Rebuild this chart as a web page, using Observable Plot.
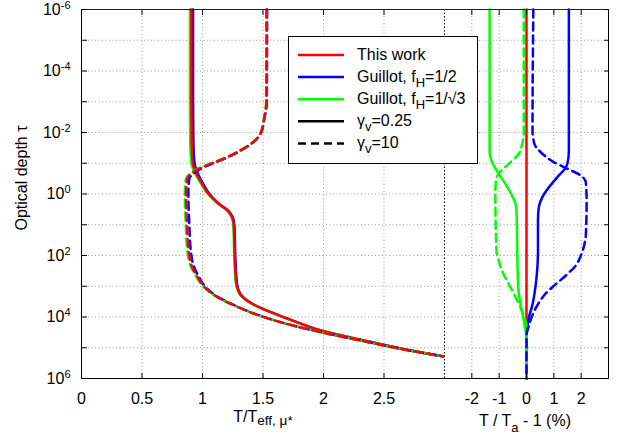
<!DOCTYPE html>
<html>
<head>
<meta charset="utf-8">
<script src="https://cdn.jsdelivr.net/npm/d3@7"></script>
<script src="https://cdn.jsdelivr.net/npm/@observablehq/plot@0.6"></script>
<style>
  html, body { margin: 0; padding: 0; background: #fff; }
  #chart { position: relative; width: 625px; height: 443px; font-family: "Liberation Sans", Arial, Helvetica, sans-serif; }
  #chart > svg { position: absolute; top: 0; overflow: visible; }
</style>
</head>
<body>
<div id="chart"></div>
<script>
// ---- Temperature profiles, T / T_eff,mu* versus log10(optical depth) ----
// gamma_v = 0.25 (solid)
const solidLogTau       = [-6, -3, -2, -1.5, -1, -0.66, -0.33, 0, 0.32, 0.54, 0.75, 1, 1.5, 2, 2.5, 2.9, 3.25, 3.57, 3.9, 4.11, 4.44, 4.76, 5.09, 5.28];
const solidThisWork     = [0.908, 0.908, 0.910, 0.912, 0.920, 0.950, 0.997, 1.051, 1.134, 1.208, 1.244, 1.258, 1.263, 1.266, 1.272, 1.280, 1.310, 1.410, 1.600, 1.740, 1.980, 2.330, 2.720, 2.990];
const solidGuillotHalf  = [0.922, 0.922, 0.924, 0.926, 0.934, 0.962, 1.006, 1.058, 1.139, 1.213, 1.249, 1.263, 1.268, 1.271, 1.277, 1.284, 1.313, 1.413, 1.602, 1.741, 1.980, 2.330, 2.720, 2.990];
const solidGuillotSqrt3 = [0.896, 0.896, 0.898, 0.900, 0.909, 0.940, 0.989, 1.045, 1.129, 1.204, 1.240, 1.254, 1.259, 1.262, 1.268, 1.276, 1.306, 1.407, 1.598, 1.738, 1.979, 2.330, 2.720, 2.990];
// gamma_v = 10 (dashed)
const dashedLogTau       = [-6, -3, -2.5, -1.96, -1.63, -1.36, -1.15, -0.98, -0.82, -0.66, -0.5, 0, 1, 1.84, 2.38, 2.71, 3.03, 3.36, 3.68, 4.01, 4.3, 4.46, 4.76, 5.09, 5.28];
const dashedThisWork     = [1.530, 1.528, 1.511, 1.478, 1.400, 1.285, 1.175, 1.065, 0.969, 0.906, 0.873, 0.864, 0.872, 0.885, 0.915, 0.960, 1.017, 1.128, 1.295, 1.512, 1.770, 1.940, 2.300, 2.710, 2.990];
const dashedGuillotHalf  = [1.534, 1.532, 1.514, 1.481, 1.404, 1.292, 1.185, 1.077, 0.984, 0.923, 0.891, 0.883, 0.891, 0.903, 0.931, 0.972, 1.026, 1.134, 1.299, 1.514, 1.771, 1.940, 2.300, 2.710, 2.990];
const dashedGuillotSqrt3 = [1.528, 1.526, 1.509, 1.477, 1.398, 1.282, 1.170, 1.058, 0.961, 0.897, 0.863, 0.854, 0.862, 0.875, 0.906, 0.953, 1.011, 1.123, 1.292, 1.511, 1.770, 1.940, 2.300, 2.710, 2.990];

// ---- Relative difference to this work, T / T_a - 1 (%) ----
const refLogTau = [-6, 6];
const refPct    = [0, 0];
const halfSolidLogTau = [-6, -1.4, -1.0, -0.87, -0.55, -0.22, 0.10, 0.43, 0.86, 1.84, 2.6, 3.0, 3.63, 4.0, 4.4, 4.6, 6];
const halfSolidPct    = [1.55, 1.55, 1.50, 1.44, 1.13, 0.82, 0.58, 0.45, 0.42, 0.42, 0.38, 0.33, 0.21, 0.09, 0.02, 0, 0];
const sqrt3SolidLogTau = [-6, -1.4, -0.98, -0.66, -0.33, 0, 0.32, 0.64, 1.84, 3.03, 3.68, 4.11, 4.44, 4.6, 6];
const sqrt3SolidPct    = [-1.35, -1.35, -1.23, -1.02, -0.77, -0.56, -0.40, -0.36, -0.34, -0.30, -0.20, -0.10, -0.04, 0, 0];
const sqrt3DashedLogTau = [-6, -1.96, -1.63, -1.31, -0.98, -0.71, -0.44, 0, 1.84, 2.16, 2.6, 3.03, 3.46, 3.9, 4.33, 6];
const sqrt3DashedPct    = [-0.10, -0.10, -0.16, -0.28, -0.65, -0.98, -1.12, -1.14, -1.10, -1.02, -0.84, -0.59, -0.34, -0.12, 0, 0];
const halfDashedLogTau = [-6, -2.07, -1.63, -1.31, -1.03, -0.82, -0.6, -0.38, 0.21, 1.35, 1.67, 2.0, 2.33, 2.65, 2.98, 3.3, 3.63, 3.95, 4.28, 4.6, 6];
const halfDashedPct    = [0.25, 0.22, 0.29, 0.58, 1.01, 1.50, 1.99, 2.17, 2.20, 2.17, 2.11, 1.99, 1.80, 1.44, 1.01, 0.64, 0.39, 0.21, 0.09, 0, 0];

// ---- Axis ticks ----
const tauExponents   = d3.range(-6, 7);
const tauLabelExps   = d3.range(-6, 7, 2);
const leftXTicks     = [0, 0.5, 1, 1.5, 2, 2.5];
const rightXTicks    = [-2, -1, 0, 1, 2];

// ---- Legend entries ----
const legendItems = [
  {text: ["This work"], stroke: "#ff0000", dash: null},
  {text: ["Guillot, f", "H", "=1/2"], stroke: "#0000ff", dash: null},
  {text: ["Guillot, f", "H", "=1/\u221A3"], stroke: "#00ff00", dash: null},
  {text: ["\u03B3", "v", "=0.25"], stroke: "#000", dash: null},
  {text: ["\u03B3", "v", "=10"], stroke: "#000", dash: "8,5"}
];

const FONT = '"Liberation Sans", Arial, Helvetica, sans-serif';
const RED = "#ff0000", BLUE = "#0000ff", GREEN = "#00ff00";
const DASH = "8,5";
const LW = 2.5;

const rows = (logTau, values) => logTau.map((e, i) => ({tau: 10 ** e, value: values[i]}));
const tauTicks = tauExponents.map(e => 10 ** e);
const tauLabelTicks = tauLabelExps.map(e => 10 ** e);

const curve = (logTau, values, stroke, dash) =>
  Plot.line(rows(logTau, values), {
    x: "value", y: "tau", stroke, strokeWidth: LW, curve: "monotone-y",
    strokeDasharray: dash || undefined, strokeLinejoin: "round"
  });

const gridStyle = {stroke: "#9a9a9a", strokeOpacity: 1, strokeWidth: 1, strokeDasharray: "1,2.5"};
const yScale = {type: "log", domain: [1e-6, 1e6], reverse: true, label: null};
const plotStyle = {background: "transparent", overflow: "visible", fontFamily: FONT, fontSize: "16px", color: "#000"};

// Left panel: temperature profiles
const left = Plot.plot({
  width: 445, height: 443,
  marginLeft: 81, marginRight: 1, marginTop: 9, marginBottom: 65,
  style: plotStyle,
  x: {domain: [0, 3], label: null},
  y: yScale,
  marks: [
    Plot.gridY(tauTicks, gridStyle),
    Plot.gridX(leftXTicks.filter(d => d > 0), gridStyle),
    curve(solidLogTau, solidGuillotHalf, BLUE),
    curve(solidLogTau, solidGuillotSqrt3, GREEN),
    curve(solidLogTau, solidThisWork, RED),
    curve(dashedLogTau, dashedGuillotHalf, BLUE, DASH),
    curve(dashedLogTau, dashedGuillotSqrt3, GREEN, DASH),
    curve(dashedLogTau, dashedThisWork, RED, DASH),
    Plot.ruleX([0], {stroke: "#000"}),
    Plot.ruleY([1e-6], {stroke: "#222"}),
    Plot.ruleY([1e6], {stroke: "#000"}),
    Plot.ruleX([3], {stroke: "#000", strokeDasharray: "1.5,2"}),
    Plot.axisY(tauLabelTicks, {anchor: "left", tickSize: 0, tickPadding: 11, fontSize: 16, label: null,
      tickFormat: d => `10^${Math.round(Math.log10(d))}`}),
    Plot.axisY(tauTicks, {anchor: "left", tickSize: 6, dx: 6, tickFormat: () => "", label: null}),
    Plot.axisX(leftXTicks, {anchor: "bottom", tickSize: 0, tickPadding: 14, fontSize: 16, label: null,
      tickFormat: d => String(d)}),
    Plot.axisX(leftXTicks, {anchor: "bottom", tickSize: 5, dy: -5, tickFormat: () => "", label: null}),
    Plot.axisX(leftXTicks, {anchor: "top", tickSize: 5, dy: 5, tickFormat: () => "", label: null})
  ]
});

// Right panel: relative differences
const right = Plot.plot({
  width: 185, height: 443,
  marginLeft: 4, marginRight: 17, marginTop: 9, marginBottom: 65,
  style: plotStyle,
  x: {domain: [-3, 3], label: null},
  y: yScale,
  marks: [
    Plot.gridY(tauTicks, gridStyle),
    Plot.gridX(rightXTicks, gridStyle),
    curve(refLogTau, refPct, RED),
    curve(halfSolidLogTau, halfSolidPct, BLUE),
    curve(sqrt3SolidLogTau, sqrt3SolidPct, GREEN),
    curve(sqrt3DashedLogTau, sqrt3DashedPct, GREEN, DASH),
    curve(halfDashedLogTau, halfDashedPct, BLUE, DASH),
    Plot.ruleY([1e-6], {stroke: "#222"}),
    Plot.ruleY([1e6], {stroke: "#000"}),
    Plot.ruleX([3], {stroke: "#000"}),
    Plot.axisY(tauTicks, {anchor: "right", tickSize: 5, dx: -5, tickFormat: () => "", label: null}),
    Plot.axisX(rightXTicks, {anchor: "bottom", tickSize: 0, tickPadding: 14, fontSize: 16, label: null,
      tickFormat: d => String(d)}),
    Plot.axisX(rightXTicks, {anchor: "bottom", tickSize: 5, dy: -5, tickFormat: () => "", label: null}),
    Plot.axisX(rightXTicks, {anchor: "top", tickSize: 5, dy: 5, tickFormat: () => "", label: null})
  ]
});

// Turn "10^n" tick strings into a base with a raised exponent
left.querySelectorAll('g[aria-label="y-axis tick label"] text').forEach(t => {
  const m = t.textContent.match(/^10\^(.+)$/);
  if (!m) return;
  t.textContent = "10";
  const sup = document.createElementNS("http://www.w3.org/2000/svg", "tspan");
  sup.setAttribute("dy", "-6");
  sup.setAttribute("font-size", "11");
  sup.textContent = m[1];
  t.appendChild(sup);
});

const chart = document.getElementById("chart");
left.style.left = "0px";
right.style.left = "440px";
chart.appendChild(left);
chart.appendChild(right);

// Overlay: axis titles and legend box
const overlay = d3.create("svg")
  .attr("width", 625).attr("height", 443)
  .style("left", "0px").style("pointer-events", "none")
  .attr("font-family", FONT).attr("fill", "#000");

overlay.append("text")
  .attr("transform", "translate(26.5,178) rotate(-90)")
  .attr("text-anchor", "middle").attr("font-size", 16)
  .text("Optical depth \u03C4");

const xl = overlay.append("text").attr("x", 263).attr("y", 421.5)
  .attr("text-anchor", "middle").attr("font-size", 16);
xl.append("tspan").text("T/T");
xl.append("tspan").attr("font-size", 13.5).attr("dy", 3.5).text("eff, \u03BC*");

const xr = overlay.append("text").attr("x", 525).attr("y", 425.5)
  .attr("text-anchor", "middle").attr("font-size", 16);
xr.append("tspan").text("T / T");
xr.append("tspan").attr("font-size", 13).attr("dy", 6).text("a");
xr.append("tspan").attr("dy", -6).text(" - 1 (%)");

const lg = overlay.append("g");
lg.append("rect").attr("x", 288.5).attr("y", 36.5).attr("width", 189).attr("height", 127)
  .attr("fill", "#fff").attr("stroke", "#000").attr("stroke-width", 1);
legendItems.forEach((d, i) => {
  const base = 60 + i * 22.1;
  lg.append("line").attr("x1", 298).attr("x2", 344).attr("y1", base - 5).attr("y2", base - 5)
    .attr("stroke", d.stroke).attr("stroke-width", LW)
    .attr("stroke-dasharray", d.dash);
  const t = lg.append("text").attr("x", 357).attr("y", base).attr("font-size", 16);
  t.append("tspan").text(d.text[0]);
  if (d.text.length > 1) {
    t.append("tspan").attr("font-size", 13).attr("dy", 4.5).text(d.text[1]);
    t.append("tspan").attr("dy", -4.5).text(d.text[2]);
  }
});

chart.appendChild(overlay.node());
</script>
</body>
</html>
